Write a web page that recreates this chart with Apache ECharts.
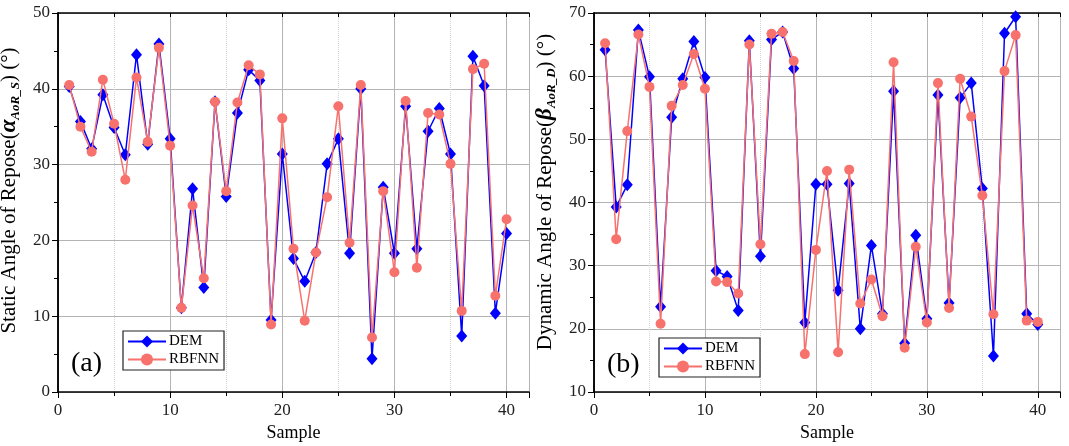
<!DOCTYPE html>
<html>
<head>
<meta charset="utf-8">
<script src="https://cdn.jsdelivr.net/npm/echarts@6/dist/echarts.min.js"></script>
<style>
  html, body { margin: 0; padding: 0; background: #fff; }
  #chart { width: 1069px; height: 446px; }
</style>
</head>
<body>
<div id="chart"></div>
<script>
// sample numbers on the x axis
var samples = [1,2,3,4,5,6,7,8,9,10,11,12,13,14,15,16,17,18,19,20,
               21,22,23,24,25,26,27,28,29,30,31,32,33,34,35,36,37,38,39,40];

// (a) static angle of repose
var staticDem = [40.3,35.7,32.1,39.2,34.9,31.3,44.5,32.7,45.9,33.4,11.1,26.8,13.8,38.3,25.8,36.8,42.5,41.1,9.5,31.4,
                 17.6,14.6,18.4,30.1,33.4,18.3,40.0,4.4,27.0,18.3,37.7,18.9,34.4,37.4,31.4,7.4,44.3,40.4,10.4,20.9];
var staticRbf = [40.5,35.0,31.7,41.2,35.4,28.0,41.5,33.0,45.4,32.5,11.1,24.6,15.0,38.3,26.5,38.2,43.1,41.9,8.9,36.1,
                 18.9,9.4,18.4,25.7,37.7,19.7,40.5,7.2,26.5,15.8,38.4,16.4,36.8,36.6,30.1,10.7,42.6,43.3,12.7,22.8];

// (b) dynamic angle of repose
var dynamicDem = [64.2,39.3,42.8,67.3,59.9,23.5,53.5,59.6,65.5,59.8,29.2,28.3,22.9,65.6,31.5,65.8,67.0,61.2,21.0,42.9,
                  42.9,26.1,43.0,20.0,33.2,22.4,57.6,17.7,34.8,21.6,57.0,24.1,56.6,58.9,42.2,15.7,66.8,69.4,22.4,20.7];
var dynamicRbf = [65.2,34.2,51.3,66.6,58.3,20.8,55.3,58.6,63.5,58.0,27.5,27.4,25.6,65.0,33.4,66.7,67.0,62.4,16.0,32.5,
                  45.0,16.3,45.2,24.0,27.8,22.0,62.2,17.0,33.0,21.0,58.9,23.3,59.6,53.6,41.1,22.3,60.8,66.5,21.3,21.1];

var FONT = 'Liberation Serif';
var BLUE = '#0000ff';
var RED = '#f7716d';

function pairs(ys) {
  return samples.map(function (x, i) { return [x, ys[i]]; });
}

function xAxes(g) {
  return [
    { // minor ticks + dotted grid
      type: 'value', gridIndex: g, min: 0, max: 42, interval: 5, position: 'bottom',
      axisLine: { show: false },
      axisTick: { show: true, length: 4, lineStyle: { color: '#000', width: 1 } },
      axisLabel: { show: false },
      splitLine: { show: true, lineStyle: { color: '#d4d4d4', type: 'dotted', width: 1 } }
    },
    { // major
      type: 'value', gridIndex: g, min: 0, max: 42, interval: 10, position: 'bottom',
      name: 'Sample', nameLocation: 'middle', nameGap: 32,
      nameTextStyle: { fontFamily: FONT, fontSize: 18, color: '#000' },
      axisLine: { show: true, lineStyle: { color: '#000', width: 1.5 } },
      axisTick: { show: true, length: 6, lineStyle: { color: '#000', width: 1 } },
      axisLabel: { fontFamily: FONT, fontSize: 17, color: '#222', margin: 10,
        formatter: function (v) { return v % 10 === 0 ? v : ''; } },
      splitLine: { show: true, lineStyle: { color: '#b4b4b4', width: 1 } }
    },
    { // top mirror
      type: 'value', gridIndex: g, min: 0, max: 42, interval: 5, position: 'top',
      axisLine: { show: true, lineStyle: { color: '#000', width: 1.5 } },
      axisTick: { show: true, inside: true, length: 4, lineStyle: { color: '#000', width: 1 } },
      axisLabel: { show: false },
      splitLine: { show: false }
    }
  ];
}

function yAxes(g, lo, hi, name, shift) {
  return [
    {
      type: 'value', gridIndex: g, min: lo, max: hi, interval: 10, position: 'left',
      name: name, nameLocation: 'middle', nameGap: 36, nameRotate: 90,
      nameTextStyle: {
        fontFamily: FONT, fontSize: 21, color: '#000', padding: [0, 0, 0, shift],
        rich: {
          t: { fontFamily: FONT, fontSize: 21, color: '#000', lineHeight: 26, verticalAlign: 'middle' },
          g: { fontFamily: FONT, fontSize: 23, fontWeight: 'bold', fontStyle: 'italic', color: '#000', lineHeight: 26, verticalAlign: 'middle' },
          s: { fontFamily: FONT, fontSize: 13, fontWeight: 'bold', fontStyle: 'italic', color: '#000', lineHeight: 13, verticalAlign: 'bottom' }
        }
      },
      axisLine: { show: true, lineStyle: { color: '#000', width: 1.5 } },
      axisTick: { show: true, length: 6, lineStyle: { color: '#000', width: 1 } },
      minorTick: { show: true, splitNumber: 2, length: 4, lineStyle: { color: '#000', width: 1 } },
      axisLabel: { fontFamily: FONT, fontSize: 17, color: '#222', margin: 8 },
      splitLine: { show: true, lineStyle: { color: '#b4b4b4', width: 1 } }
    },
    {
      type: 'value', gridIndex: g, min: lo, max: hi, interval: 10, position: 'right',
      axisLine: { show: true, lineStyle: { color: '#000', width: 1.5 } },
      axisTick: { show: true, inside: true, length: 4, lineStyle: { color: '#000', width: 1 } },
      minorTick: { show: true, splitNumber: 2, length: 4, lineStyle: { color: '#000', width: 1 } },
      axisLabel: { show: false },
      splitLine: { show: false }
    }
  ];
}

function lineSeries(name, g, ys, isDem) {
  return {
    name: name, type: 'line', xAxisIndex: g * 3 + 1, yAxisIndex: g * 2,
    data: pairs(ys),
    symbol: isDem ? 'diamond' : 'circle',
    symbolSize: isDem ? [11, 13] : 10,
    showAllSymbol: true,
    lineStyle: { color: isDem ? BLUE : RED, width: 1.5 },
    itemStyle: { color: isDem ? BLUE : RED },
    emphasis: { disabled: true },
    animation: false,
    z: isDem ? 2 : 3
  };
}

function legendBox(left, top) {
  return {
    data: ['DEM', 'RBFNN'], orient: 'vertical', left: left, top: top,
    backgroundColor: '#fff', borderColor: '#222', borderWidth: 1.2, borderRadius: 0,
    padding: [3, 5, 3, 4], itemGap: 3, itemWidth: 38, itemHeight: 15,
    textStyle: { fontFamily: FONT, fontSize: 15, color: '#000', padding: [0, 0, 0, -2] }
  };
}

var dom = document.getElementById('chart');
var myChart = echarts.init(dom);
var option = {
  animation: false,
  title: [
    { text: '(a)', left: 66, top: 345, textStyle: { fontFamily: FONT, fontSize: 28, fontWeight: 'normal', color: '#000' } },
    { text: '(b)', left: 602, top: 346, textStyle: { fontFamily: FONT, fontSize: 28, fontWeight: 'normal', color: '#000' } }
  ],
  legend: [legendBox(123, 331), legendBox(659, 338)],
  grid: [
    { left: 58, top: 13, width: 471, height: 379, outerBoundsMode: 'none' },
    { left: 594, top: 13, width: 466, height: 379, outerBoundsMode: 'none' }
  ],
  xAxis: xAxes(0).concat(xAxes(1)),
  yAxis: yAxes(0, 0, 50, '{t|Static Angle of Repose(}{g|α}{s|AoR_S}{t|) (°)}', 24)
    .concat(yAxes(1, 10, 70, '{t|Dynamic Angle of Repose(}{g|β}{s|AoR_D}{t|) (°)}', 21)),
  series: [
    lineSeries('DEM', 0, staticDem, true),
    lineSeries('RBFNN', 0, staticRbf, false),
    lineSeries('DEM', 1, dynamicDem, true),
    lineSeries('RBFNN', 1, dynamicRbf, false)
  ]
};
myChart.setOption(option, true);
</script>
</body>
</html>
